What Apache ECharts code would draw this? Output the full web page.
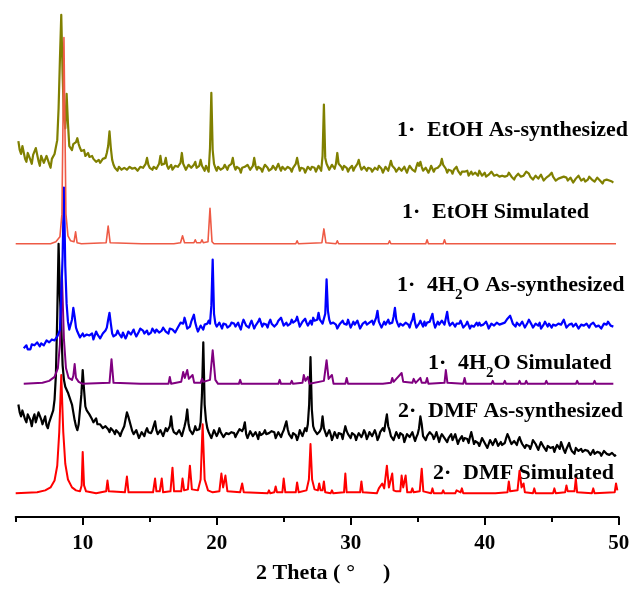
<!DOCTYPE html>
<html>
<head>
<meta charset="utf-8">
<title>PXRD patterns</title>
<script src="https://cdn.jsdelivr.net/npm/echarts@6/dist/echarts.min.js"></script>
<style>
  html, body { margin: 0; padding: 0; background: #ffffff; }
  #chart { width: 635px; height: 589px; }
</style>
</head>
<body>
<div id="chart"></div>
<script>
// ---------------------------------------------------------------
// Powder X-ray diffraction patterns, stacked with vertical offsets.
// Intensities are in arbitrary units relative to each pattern's offset.
// ---------------------------------------------------------------

// Measured patterns are sampled on a regular 2θ grid
const STEP = 0.1;

// 1·EtOH as-synthesized (2θ from 5.2°, one row = 2°)
const etohAsStart = 5.2;
const etohAs = [
  27, 18, 14, 22, 20, 9, 6, 15, 16, 8, 4, 13, 12, 20, 18, 7, 2, 12, 10, 5,
  6, 12, 14, 4, 0, 9, 8, 14, 12, 28, 60, 110, 155, 95, 50, 40, 75, 45, 22, 20,
  18, 24, 22, 26, 30, 24, 20, 17, 16, 18, 12, 14, 15, 11, 10, 12, 9, 7, 6, 8,
  8, 5, 4, 9, 7, 10, 15, 22, 37, 20, 8, 3, 0, -2, -3, 1, 2, -2, -4, 0,
  0, -2, -3, 1, 2, -1, -2, 0, 1, -3, -4, 1, 3, 0, -1, 4, 10, 3, 0, -2,
  -2, 1, 2, -1, -3, 4, 12, 3, 2, 4, 10, 2, -1, 1, 3, -2, -2, 2, 4, 1,
  0, 5, 15, 4, 2, -2, -2, 3, 3, 0, 1, 3, 6, 0, -1, 2, 8, 2, 0, -3,
  2, -1, -4, 20, 76, 18, 4, 0, -3, 1, 2, -2, -4, 0, 3, 1, -2, 2, 1, 4,
  10, 2, -2, 1, 3, -1, -5, 0, 2, 1, -1, 3, 4, -2, -3, 2, 10, 2, -2, 1,
  2, -1, -4, 0, 3, 1, 0, -3, -5, -1, 2, 0, -2, 1, 4, 0, -3, 1, 1, -2,
  -2, 1, 3, -1, -4, 0, 1, 4, 10, 3, -3, 0, 2, -1, -5, -2, 1, 3, -2, 1,
  3, 0, -4, -1, 2, 1, -3, 12, 64, 10, 4, 1, -2, 0, 3, 1, -1, 4, 15, 4,
  4, 1, -2, 2, 3, 0, -4, -1, 1, 2, -3, 0, 2, 4, 8, 2, -2, 0, 1, -1,
  -3, 0, 2, -1, -4, -2, 0, 1, -2, 2, 3, -1, -5, -2, 1, 0, -3, 2, 7, 2,
  2, -1, -4, -2, 0, 1, -3, -1, 1, -2, -5, -1, 2, 0, -2, -3, -4, 1, 5, 2,
  6, 1, -3, -1, 0, -2, -5, -2, 2, 0, -4, -1, 1, 0, -2, 3, 9, 3, 2, -1,
  -5, -2, -1, -3, -6, -2, 0, 1, -3, -5, -7, -4, -2, -4, -5, -3, -8, -6, -4, -7,
  -9, -5, -6, -8, -3, -1, -8, -6, -5, -9, -10, -7, -7, -4, -4, -8, -9, -7, -6, -9,
  -10, -8, -7, -9, -11, -8, -5, -7, -9, -11, -12, -9, -8, -6, -6, -9, -10, -8, -7, -4,
  -2, -6, -9, -11, -12, -10, -8, -9, -11, -9, -7, -10, -13, -11, -10, -12, -8, -7, -5, -9,
  -11, -13, -14, -11, -9, -10, -12, -9, -7, -10, -13, -11, -10, -12, -15, -13, -11, -9, -8, -10,
  -13, -12, -11, -14, -15, -12, -9, -11, -12, -13, -14, -12, -10, -12, -13, -15, -16, -13, -11, -12,
  -14, -13, -12, -14, -15
];

// 1·4H2O as-synthesized (2θ from 5.6°)
const h2oAsStart = 5.6;
const h2oAs = [
  -23, -21, -20, -24, -22, -24, -19, -21, -20, -22, -17, -19, -21, -18, -16, -20, -19, -15, -14, -17,
  -17, -14, -12, -15, -14, -11, -8, -4, 30, 70, 140, 60, 22, 4, -4, -2, 6, 18, 9, -2,
  -6, -9, -12, -10, -8, -11, -13, -9, -7, -10, -11, -8, -14, -12, -6, -9, -10, -13, -12, -8,
  -9, -5, -2, 6, 13, 2, -8, -11, -12, -9, -5, -8, -10, -12, -7, -9, -13, -10, -6, -8,
  -9, -7, -4, -8, -11, -9, -6, -3, -2, -5, -8, -6, -5, -9, -10, -7, -3, -5, -7, -4,
  -4, -7, -9, -5, -2, -4, -6, -8, -8, -3, -1, -4, -5, -7, -7, -2, 0, 3, 4, 2,
  8, 3, -3, -2, -1, 4, 6, 11, 3, -2, -6, -3, 0, -2, -4, 1, -1, 2, 5, 2,
  20, 67, 12, 2, -1, 1, 3, 0, -3, 2, 4, 1, -2, -1, 0, 3, 5, 2, -1, 1,
  3, -1, -4, 2, 6, 3, 0, -2, -2, 2, 5, 1, -3, 0, 2, 4, 7, 3, -1, 2,
  4, 1, -2, 3, 6, 2, 1, -1, -3, 2, 5, 3, 8, 4, 0, 1, 3, 0, -2, 2,
  6, 3, 2, 5, 9, 4, -1, 1, 4, 2, 7, 3, 0, 2, 5, 1, 8, 5, 3, 6,
  13, 6, 5, 2, 4, 12, 47, 15, 6, 2, 0, 3, 4, 1, -3, -1, 2, 4, 5, 2,
  3, 1, 6, 2, -2, 0, 4, 1, 0, 5, 3, -3, -1, 2, 2, 4, 1, -1, 3, 2,
  5, 1, 2, 8, 15, 4, 3, -2, 1, 4, 1, 3, 6, 2, 4, 3, 9, 18, 6, 2,
  -1, 2, 4, 0, 0, 3, 5, 1, -2, 3, 6, 12, 3, -2, 0, 2, 5, 3, -1, 4,
  0, 3, 2, 4, 5, 12, 3, -2, 0, 4, 1, 2, 5, 6, 1, 3, 14, 4, 0, -2,
  3, 1, -1, 2, 0, 2, 5, 3, -2, -1, 1, 4, 2, -3, 0, 2, -1, 1, 3, 0,
  3, 0, -2, 1, 3, 4, 1, -3, -1, 2, 3, 0, -2, 3, 4, 1, -1, 2, 1, 3,
  5, 7, 9, 10, 6, 2, 0, -1, 3, 1, 0, 2, 4, 1, -2, 0, 3, 6, 8, 1,
  -2, 0, 2, 1, 0, 3, -3, -1, 1, 4, 2, -1, 2, 0, -2, 1, 3, 0, -1, 2,
  3, 1, 0, 6, 4, -2, -1, 1, 3, 2, -1, 0, 2, 4, -3, -1, 1, 2, 0, -1,
  2, 0, -2, 1, 0, 3, 2, -1, 1, 0, 1, -3, -1, 2, 0, 1, 4, 2, 0, -1,
  -1
];

// 2·DMF as-synthesized (2θ from 5.2°)
const dmfAsStart = 5.2;
const dmfAs = [
  30, 22, 18, 24, 26, 15, 12, 20, 22, 14, 8, 16, 20, 12, 14, 22, 24, 15, 10, 14,
  18, 9, 6, 12, 16, 20, 24, 35, 60, 120, 193, 140, 110, 70, 55, 48, 48, 42, 38, 34,
  30, 22, 14, 8, 4, 10, 25, 40, 65, 45, 28, 24, 22, 20, 18, 15, 12, 14, 16, 10,
  8, 10, 12, 6, 4, 8, 10, 5, 2, 6, 8, 3, 0, 4, 6, 1, -2, 2, 4, 8,
  15, 22, 18, 16, 8, 3, 0, 2, 4, 0, -4, -1, 2, 0, -2, 3, 6, 2, 0, 1,
  4, 6, 13, 4, 0, 2, 4, 1, -2, 2, 6, 3, 5, 8, 18, 6, 2, 4, 0, 2,
  4, 1, -2, 3, 8, 14, 25, 10, 4, 2, 0, 3, 8, 4, 2, 5, 12, 40, 93, 30,
  14, 6, 2, -1, -4, 0, 4, 2, -2, 1, 6, 2, 0, -3, -4, 1, 3, 0, -2, 2,
  4, 1, -3, 0, 2, 5, 4, 3, 6, 12, 0, -4, -2, 3, 1, -2, 0, 2, -1, -5,
  2, -1, -3, 1, 4, 0, -2, 1, 0, 3, 5, 2, -4, -1, 2, 0, -3, 1, 4, 6,
  13, 5, 0, -2, -4, 1, 3, -1, -6, -2, 4, 2, -2, 0, 6, 3, 10, 30, 78, 25,
  8, 4, 2, 0, -1, 3, 6, 18, 6, 2, -2, 1, 4, 0, -6, -2, 2, 0, -4, 1,
  3, 0, -5, 2, 8, 3, 0, -2, -4, 1, 2, -1, -6, -2, 1, 3, -3, 0, 4, 1,
  -5, -2, 2, 0, -2, 1, 4, 0, -6, -3, 2, 1, 6, 3, 12, 20, 8, 4, -2, 0,
  -6, -2, 2, 0, -4, 1, 3, -1, -8, -4, 0, 2, -3, -1, 2, 0, -7, -3, 0, 6,
  18, 10, -2, -4, -6, -2, 0, 2, 4, -1, -5, -2, 2, 0, -8, -3, 0, 1, -4, -2,
  -8, -4, -2, 0, -6, -3, 0, -1, -10, -6, -4, -2, -7, -4, -2, -5, -9, -3, 2, -4,
  -10, -7, -6, -9, -12, -8, -4, -6, -9, -11, -14, -10, -6, -8, -11, -9, -5, -8, -12, -10,
  -8, -11, -13, -9, -4, 0, -3, -7, -10, -8, -7, -9, -11, -6, -3, -7, -10, -8, -14, -11,
  -9, -12, -15, -11, -6, -4, -10, -13, -16, -12, -8, -10, -13, -15, -17, -12, -10, -14, -16, -13,
  -18, -14, -11, -13, -15, -8, -12, -16, -19, -15, -13, -9, -14, -17, -16, -20, -14, -12, -17, -15,
  -15, -18, -20, -16, -14, -17, -18, -21, -19, -16, -20, -22, -18, -17, -19, -22, -20, -17, -18, -20,
  -18, -21, -22, -19, -20, -22, -21
];

// Simulated patterns as [2θ, intensity] pairs
const etohSim = [
  [5.0, 0], [7.6, 0], [8.0, 2], [8.3, 7], [8.45, 30], [8.6, 209], [8.75, 30], [8.9, 8], [9.1, 3],
  [9.35, 2], [9.47, 12], [9.58, 1], [9.9, 0],
  [11.75, 1], [11.9, 18], [12.05, 1], [14.4, 0], [14.5, 2], [14.6, 0], [15.6, 0], [15.7, 2], [15.8, 0],
  [16.6, 0], [16.7, 2], [16.8, 0], [17.3, 1], [17.45, 8], [17.6, 1], [17.9, 1], [18.0, 3], [18.1, 1],
  [18.3, 1], [18.4, 4], [18.5, 1], [18.8, 1], [18.9, 4], [19.0, 1], [19.35, 2], [19.5, 36], [19.65, 2], [19.8, 0],
  [21.6, 0], [21.7, 2], [21.8, 0], [22.6, 0], [22.7, 2], [22.8, 0], [24.1, 0], [24.2, 2], [24.3, 0],
  [25.1, 0], [25.2, 2], [25.3, 0], [25.9, 0], [26.0, 3], [26.1, 0],
  [27.85, 1], [28.0, 15], [28.15, 1], [28.9, 0], [29.0, 3], [29.1, 0], [32.8, 0], [32.9, 3], [33.0, 0],
  [33.5, 0], [33.6, 2], [33.7, 0], [34.4, 0], [34.5, 2], [34.6, 0], [35.6, 0], [35.7, 4], [35.8, 0],
  [36.9, 0], [37.0, 4], [37.1, 0], [37.5, 0], [37.6, 2], [37.7, 0],
  [39.2, 0], [39.3, 1], [39.4, 0], [41.0, 0], [41.1, 1], [41.2, 0], [42.6, 0], [42.7, 2], [42.8, 0],
  [44.4, 0], [44.5, 1], [44.6, 0], [46.2, 0], [46.3, 1], [46.4, 0], [47.9, 0], [48.0, 1], [48.1, 0], [49.8, 0]
];

const h2oSim = [
  [5.6, 0], [7.0, 1], [7.5, 3], [7.9, 7], [8.15, 16], [8.3, 40], [8.45, 110], [8.6, 45], [8.75, 16],
  [8.95, 6], [9.2, 4], [9.3, 8], [9.4, 20], [9.5, 6], [9.7, 2], [10.0, 0],
  [12.0, 1], [12.15, 25], [12.3, 1], [14.3, 0], [14.4, 2], [14.5, 0], [16.4, 0], [16.5, 7], [16.6, 0],
  [17.35, 2], [17.5, 12], [17.62, 6], [17.8, 14], [17.92, 5], [18.2, 9], [18.32, 1], [18.8, 1], [18.9, 5],
  [19.0, 2], [19.5, 4], [19.7, 34], [19.9, 4], [20.1, 0],
  [21.65, 0], [21.75, 4], [21.85, 0], [24.6, 0], [24.7, 4], [24.8, 0], [25.5, 0], [25.6, 3], [25.7, 0],
  [26.4, 1], [26.5, 9], [26.62, 3], [26.8, 7], [26.92, 0],
  [28.0, 3], [28.2, 24], [28.35, 5], [28.6, 9], [28.72, 0], [29.6, 0], [29.7, 6], [29.8, 0],
  [32.2, 0], [32.3, 2], [32.4, 0], [33.0, 1], [33.1, 6], [33.2, 2], [33.8, 11], [33.92, 2],
  [34.6, 1], [34.7, 5], [34.85, 1], [35.2, 6], [35.3, 1], [35.6, 1], [35.7, 6], [35.8, 0],
  [37.0, 1], [37.1, 14], [37.22, 1], [38.4, 0], [38.5, 6], [38.6, 0], [40.5, 0], [40.6, 3], [40.7, 0],
  [41.4, 0], [41.5, 3], [41.6, 0], [42.5, 0], [42.6, 3], [42.7, 0], [43.0, 0], [43.1, 3], [43.2, 0],
  [44.5, 0], [44.6, 3], [44.7, 0], [45.0, 0], [45.1, 2], [45.2, 0], [46.8, 0], [46.9, 3], [47.0, 0],
  [48.1, 0], [48.2, 3], [48.3, 0], [49.0, 0], [49.1, 2], [49.2, 0], [49.6, 0]
];

const dmfSim = [
  [5.0, 0], [6.6, 1], [7.2, 3], [7.6, 6], [7.9, 13], [8.1, 28], [8.25, 62], [8.4, 120], [8.55, 62],
  [8.7, 30], [8.9, 14], [9.2, 6], [9.5, 3], [9.8, 2], [9.92, 8], [10.0, 42], [10.1, 8], [10.25, 2],
  [11.0, 0], [11.75, 2], [11.85, 13], [11.95, 2], [13.15, 1], [13.3, 17], [13.42, 1],
  [15.25, 1], [15.4, 15], [15.5, 2], [15.75, 2], [15.9, 15], [16.0, 1],
  [16.55, 2], [16.7, 26], [16.82, 2], [17.35, 2], [17.45, 15], [17.57, 3], [17.85, 4], [18.0, 28], [18.15, 4],
  [18.6, 3], [18.8, 14], [18.95, 70], [19.1, 14], [19.35, 3], [19.7, 1],
  [20.2, 2], [20.35, 20], [20.48, 6], [20.55, 8], [20.65, 18], [20.8, 2],
  [21.75, 1], [21.9, 10], [22.02, 1], [23.8, 0], [23.9, 3], [24.0, 0], [24.3, 1], [24.4, 7], [24.5, 1],
  [24.9, 1], [25.0, 15], [25.12, 1], [25.9, 1], [26.0, 11], [26.12, 1],
  [26.7, 3], [26.88, 14], [27.0, 50], [27.12, 14], [27.3, 4], [27.55, 3], [27.65, 10], [27.75, 3],
  [27.9, 3], [28.0, 12], [28.1, 1], [28.5, 0], [28.6, 3], [28.7, 0],
  [29.5, 1], [29.6, 20], [29.7, 1], [30.7, 1], [30.8, 12], [30.9, 1],
  [31.95, 0], [32.1, 5], [32.2, 3], [32.35, 10], [32.5, 5], [32.7, 28], [32.85, 6], [33.1, 20], [33.2, 3], [33.4, 2],
  [33.7, 2], [33.8, 18], [33.92, 6], [34.1, 18], [34.22, 1], [34.5, 1], [34.6, 5], [34.7, 1],
  [35.15, 2], [35.3, 25], [35.42, 2], [36.0, 0], [36.1, 5], [36.2, 0], [36.8, 0], [36.9, 3], [37.0, 0],
  [37.8, 0], [37.9, 3], [38.0, 1], [38.2, 1], [38.3, 5], [38.4, 0],
  [39.6, 0], [39.7, 2], [39.8, 0], [40.6, 0], [40.7, 2], [40.8, 0],
  [41.7, 1], [41.8, 12], [41.9, 2], [42.45, 3], [42.6, 23], [42.75, 6], [42.9, 10], [43.0, 1],
  [43.6, 0], [43.7, 5], [43.8, 0], [45.1, 0], [45.2, 5], [45.3, 0], [46.0, 1], [46.1, 8], [46.2, 2],
  [46.7, 2], [46.8, 15], [46.9, 1], [48.0, 0], [48.1, 5], [48.2, 0], [49.7, 1], [49.8, 10], [49.9, 3]
];

// Vertical offset of each pattern in the stack (a.u.)
const offsets = { dmfSim: 24, dmfAs: 84, h2oSim: 135, h2oAs: 194, etohSim: 277, etohAs: 354 };

// Axis ticks
const majorTicks = [10, 20, 30, 40, 50];
const minorTicks = [5, 15, 25, 35, 45];

// Pattern labels (rich-text markup: n = sample number, t = text, s = subscript)
const labelTexts = [
  '{n|1·}{t|EtOH As-synthesized}',
  '{n|1·}{t|EtOH Simulated}',
  '{n|1·}{t|4H}{s|2}{t|O As-synthesized}',
  '{n|1·}{t|4H}{s|2}{t|O Simulated}',
  '{n|2·}{t|DMF As-synthesized}',
  '{n|2·}{t|DMF Simulated}'
];

// ---------------------------------------------------------------
const SERIF = '"Liberation Serif", "Times New Roman", "DejaVu Serif", serif';

function gridSeries(start, values, off) {
  return values.map((v, i) => [+(start + i * STEP).toFixed(2), v + off]);
}
function pairSeries(pairs, off) {
  return pairs.map(p => [p[0], p[1] + off]);
}

const labelPos = [
  [397, 130], [402, 212], [397, 285], [428, 363], [398, 411], [433, 473]
];

const labelRich = {
  n: { fontFamily: SERIF, fontWeight: 'bold', fontSize: 22, lineHeight: 36, width: 30, fill: '#000' },
  t: { fontFamily: SERIF, fontWeight: 'bold', fontSize: 22, lineHeight: 36, fill: '#000' },
  s: { fontFamily: SERIF, fontWeight: 'bold', fontSize: 15, lineHeight: 15, verticalAlign: 'bottom', fill: '#000' }
};

const chart = echarts.init(document.getElementById('chart'), null, { renderer: 'canvas' });

function lineSeries(name, data, color, width, z) {
  return {
    name, type: 'line', data, xAxisIndex: 0, yAxisIndex: 0,
    showSymbol: false, symbol: 'none', smooth: false, z,
    lineStyle: { color, width, join: 'round' },
    emphasis: { disabled: true },
    silent: true
  };
}

chart.setOption({
  animation: false,
  backgroundColor: '#ffffff',
  grid: { left: 15.7, right: 16.3, top: 4, bottom: 65, containLabel: false },
  xAxis: [
    {
      type: 'value', min: 5, max: 50, position: 'bottom',
      axisLine: { show: true, onZero: false, lineStyle: { color: '#000', width: 2 } },
      axisTick: { show: true, customValues: majorTicks, length: 8, inside: false, lineStyle: { color: '#000', width: 2 } },
      axisLabel: {
        show: true, customValues: majorTicks, margin: 16,
        fontFamily: SERIF, fontWeight: 'bold', fontSize: 21, color: '#000'
      },
      splitLine: { show: false },
      name: '{t|2 Theta (}{d|°}{t|)}',
      nameLocation: 'middle', nameGap: 45,
      nameTextStyle: {
        padding: [0, 0, 0, 12],
        rich: {
          t: { fontFamily: SERIF, fontWeight: 'bold', fontSize: 22, color: '#000' },
          d: { fontFamily: SERIF, fontWeight: 'bold', fontSize: 22, color: '#000', padding: [0, 28, 0, 6] }
        }
      }
    },
    {
      type: 'value', min: 5, max: 50, position: 'bottom',
      axisLine: { show: false },
      axisTick: { show: true, customValues: minorTicks, length: 5, lineStyle: { color: '#000', width: 2 } },
      axisLabel: { show: false },
      splitLine: { show: false }
    }
  ],
  yAxis: { type: 'value', min: 0, max: 520, show: false, splitLine: { show: false } },
  graphic: labelTexts.map((txt, i) => ({
    type: 'text', x: labelPos[i][0], y: labelPos[i][1], silent: true,
    style: { text: txt, rich: labelRich, align: 'left', verticalAlign: 'middle', fill: '#000' }
  })),
  series: [
    lineSeries('2·DMF Simulated', pairSeries(dmfSim, offsets.dmfSim), '#ff0000', 2, 1),
    lineSeries('2·DMF As-synthesized', gridSeries(dmfAsStart, dmfAs, offsets.dmfAs), '#000000', 2.2, 2),
    lineSeries('1·4H2O Simulated', pairSeries(h2oSim, offsets.h2oSim), '#800080', 2, 3),
    lineSeries('1·4H2O As-synthesized', gridSeries(h2oAsStart, h2oAs, offsets.h2oAs), '#0000ff', 2.2, 4),
    lineSeries('1·EtOH As-synthesized', gridSeries(etohAsStart, etohAs, offsets.etohAs), '#808000', 2.2, 5),
    lineSeries('1·EtOH Simulated', pairSeries(etohSim, offsets.etohSim), '#ee5a45', 1.6, 6)
  ]
});
</script>
</body>
</html>
